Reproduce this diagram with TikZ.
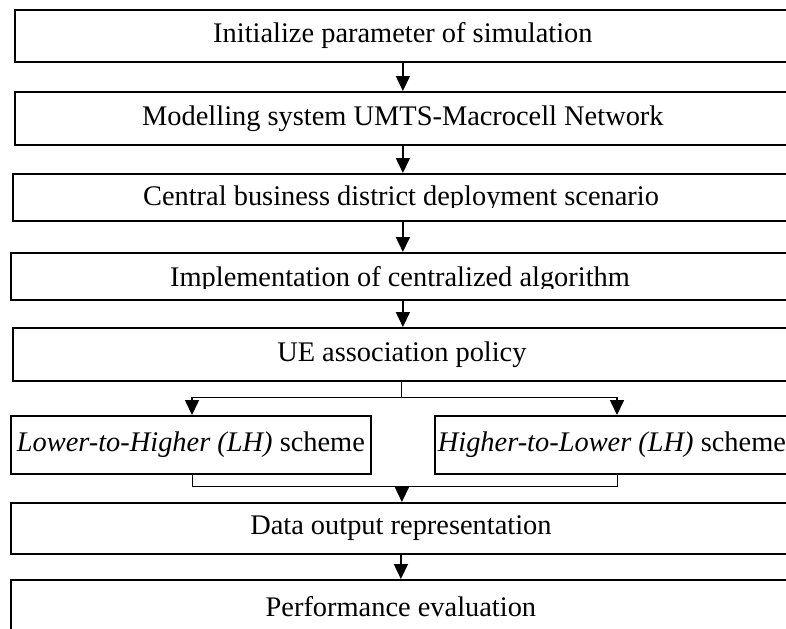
\documentclass[tikz,border=0pt]{standalone}
\usepackage{fontspec}
\setmainfont{Liberation Serif}
\usetikzlibrary{positioning,arrows.meta}
\newcommand{\stagefont}{\fontsize{14.2pt}{17pt}\selectfont}

\begin{document}
\begin{tikzpicture}[x=0.5pt,y=-0.5pt,
    stage/.style={draw, line width=0.9pt, inner sep=0pt, anchor=north west, font=\stagefont},
    flow/.style={line width=0.8pt, -{Triangle[length=7.5pt,width=7pt]}},
    link/.style={line width=0.5pt}]
        \useasboundingbox (0,0) rectangle (786,628);
        \clip (0,0) rectangle (786,628);
        \node[stage, minimum width=388pt, minimum height=26pt] (init) at (14,9) {Initialize parameter of simulation};
        \node[stage, minimum width=388pt, minimum height=26.5pt] (model) at (14,91) {Modelling system UMTS-Macrocell Network};
        \node[stage, minimum width=389pt, minimum height=23.5pt] (scen) at (12,173) {};
        \node[stage, minimum width=390pt, minimum height=23.5pt] (algo) at (10,252) {};
        \node[stage, minimum width=389pt, minimum height=26.5pt] (ue) at (12,327) {UE association policy};
        \node[stage, minimum width=180pt, minimum height=29pt] (lh) at (10,415) {\textit{Lower-to-Higher (LH)} scheme};
        \node[stage, minimum width=177pt, minimum height=29pt] (hl) at (434,415) {\textit{Higher-to-Lower (LH)} scheme};
        \node[stage, minimum width=390pt, minimum height=25.5pt] (data) at (10,502) {Data output representation};
        \node[stage, minimum width=390pt, minimum height=27pt] (perf) at (10,579) {Performance evaluation};
        % texts cut at the bottom
        \begin{scope}
          \clip (12,173) rectangle (790,207);
          \node[anchor=base, font=\stagefont] (scentxt) at (401,205) {Central business district deployment scenario};
        \end{scope}
        \begin{scope}
          \clip (10,252) rectangle (790,288);
          \node[anchor=base, font=\stagefont] (algotxt) at (400,286) {Implementation of centralized algorithm};
        \end{scope}
        \draw[flow] (init.south) -- (init.south |- model.north);
        \draw[flow] (model.south) -- (model.south |- scen.north);
        \draw[flow] (model.south |- scen.south) -- (model.south |- algo.north);
        \draw[flow] (model.south |- algo.south) -- (model.south |- ue.north);
        \coordinate (splitL) at (192,397);
        \coordinate (splitR) at (617,397);
        \coordinate (joinL) at (192,486);
        \coordinate (joinR) at (617,486);
        \draw[link] (ue.south) -- (ue.south |- splitL);
        \draw[link] (splitL) -- (splitR);
        \draw[flow] (splitL) -- (splitL |- lh.north);
        \draw[flow] (splitR) -- (splitR |- hl.north);
        \draw[link] (joinL |- lh.south) -- (joinL) -- (joinR) -- (joinR |- hl.south);
        \draw[flow] (ue.south |- joinL) -- (ue.south |- data.north);
        \draw[flow] (data.south) -- (data.south |- perf.north);
      \end{tikzpicture}
\end{document}
